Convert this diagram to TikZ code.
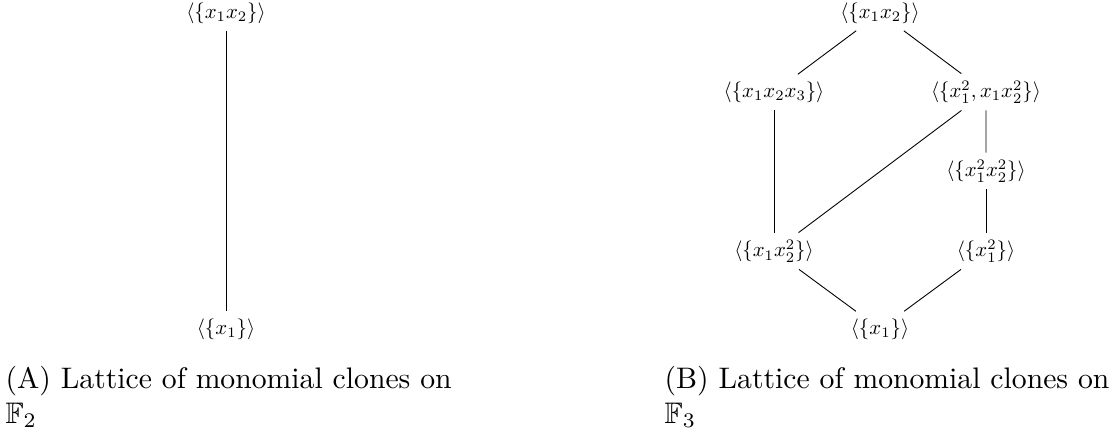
\documentclass[tikz,border=0pt]{standalone}
\usepackage{amssymb}
\begin{document}
\begin{tikzpicture}[x=0.33667pt,y=-0.33667pt,
  lat/.style={font=\normalsize, scale=0.7, transform shape},
  capline/.style={anchor=base west, inner sep=0pt, font=\normalsize},
  edge/.style={draw=black, line width=0.3pt}]
\useasboundingbox (0,0) rectangle (1109,437);
% (A) lattice on F_2
\node[lat] (a1) at (226,13) {$\langle\{x_1x_2\}\rangle$};
\node[lat] (a0) at (226,329) {$\langle\{x_1\}\rangle$};
\draw[edge] (a1) -- (a0);
\node[capline] (capA1) at (5,388) {(A) Lattice of monomial clones on};
\node[capline] (capA2) at (5,423) {$\mathbb{F}_2$};
% (B) lattice on F_3
\node[lat] (top) at (880,13) {$\langle\{x_1x_2\}\rangle$};
\node[lat] (l2) at (774,92) {$\langle\{x_1x_2x_3\}\rangle$};
\node[lat] (r2) at (986,92) {$\langle\{x_1^2,x_1x_2^2\}\rangle$};
\node[lat] (r3) at (986,171) {$\langle\{x_1^2x_2^2\}\rangle$};
\node[lat] (l4) at (774,251) {$\langle\{x_1x_2^2\}\rangle$};
\node[lat] (r4) at (986,251) {$\langle\{x_1^2\}\rangle$};
\node[lat] (bot) at (880,329) {$\langle\{x_1\}\rangle$};
\draw[edge] (top) -- (l2);
\draw[edge] (top) -- (r2);
\draw[edge] (l2) -- (l4);
\draw[edge] (r2) -- (l4);
\draw[edge] (r2) -- (r3);
\draw[edge] (r3) -- (r4);
\draw[edge] (l4) -- (bot);
\draw[edge] (r4) -- (bot);
\node[capline] (capB1) at (664,388) {(B) Lattice of monomial clones on};
\node[capline] (capB2) at (664,423) {$\mathbb{F}_3$};
\end{tikzpicture}
\end{document}
